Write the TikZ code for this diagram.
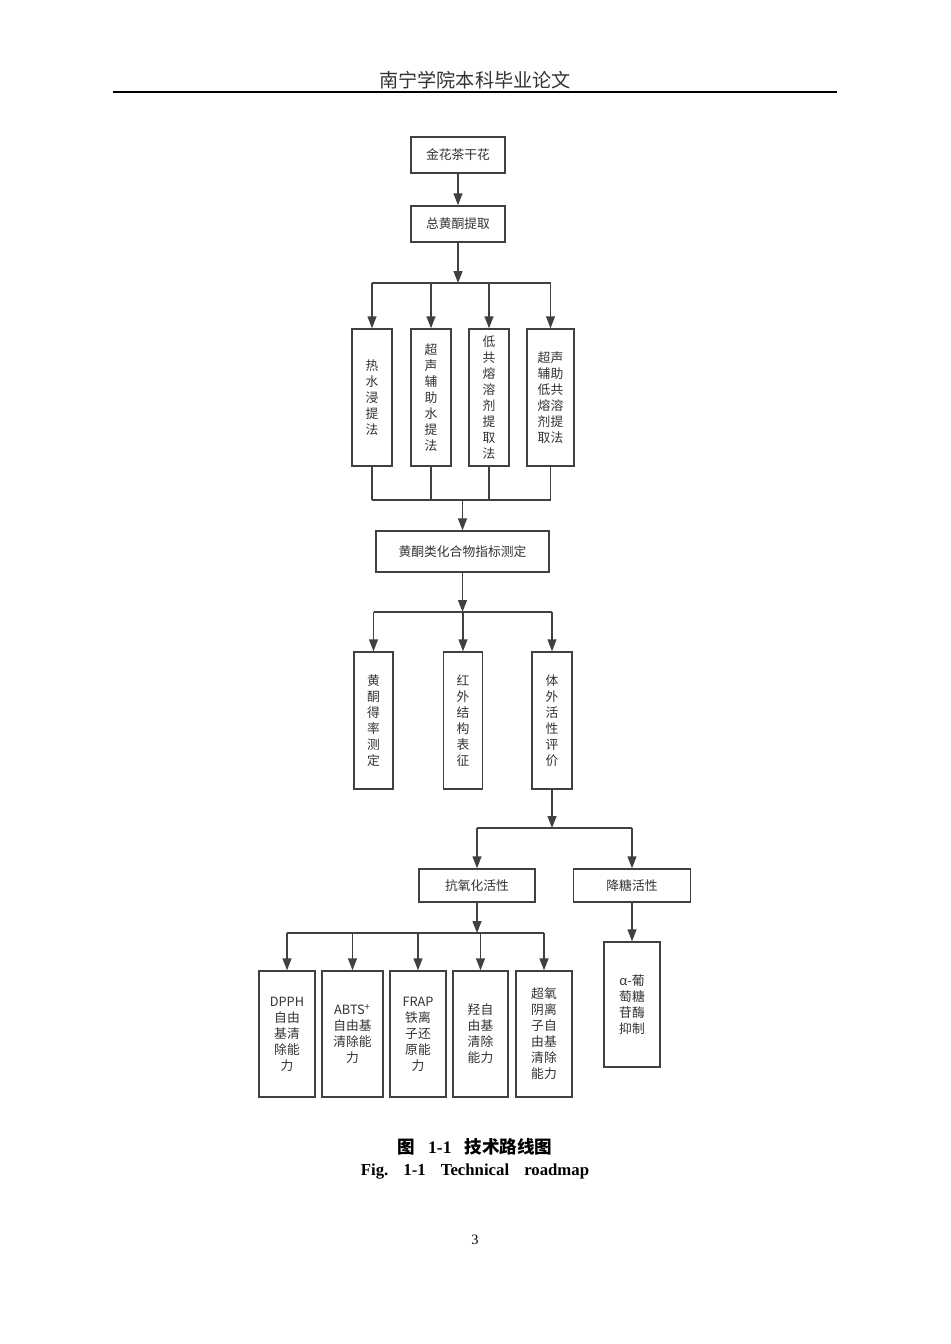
\documentclass[tikz,border=0pt]{standalone}
\usepackage{fontspec}
\setmainfont{Liberation Serif}
\newfontfamily\cjk{Noto Sans CJK SC}
\usetikzlibrary{arrows.meta, positioning}
\newcommand\px{0.6265pt}
\definecolor{linea}{HTML}{404040}
\definecolor{texto}{HTML}{333333}

\begin{document}
\begin{tikzpicture}[x=0.6265pt, y=-0.6265pt,
		>={Triangle[width=5.6pt, length=7.5pt]},
		caja/.style={draw=linea, line width=0.9pt, inner sep=0pt, align=center, text=texto,
			font=\cjk\fontsize{8}{10}\selectfont},
		flecha/.style={->, draw=linea, line width=0.9pt},
		tramo/.style={draw=linea, line width=0.9pt}]
				\fill[white] (0,0) rectangle (950,1344);
				\useasboundingbox (0,0) rectangle (950,1344);
				% Cabecera
				\node[font=\cjk\fontsize{12}{14}\selectfont, text=texto] (cabecera) at (475,80) {南宁学院本科毕业论文};
				\draw[line width=1pt] (113,92) -- (837,92);
				% Nodos
				\node[caja, minimum width=94*\px, minimum height=36*\px] (flor) at (458,155) {金花茶干花};
				\node[caja, minimum width=94*\px, minimum height=36*\px] (total) at (458,224) {总黄酮提取};
				\node[caja, minimum width=40*\px, minimum height=137*\px] (metodo1) at (372,397.5) {热\\水\\浸\\提\\法};
				\node[caja, minimum width=40*\px, minimum height=137*\px] (metodo2) at (431,397.5) {超\\声\\辅\\助\\水\\提\\法};
				\node[caja, minimum width=40*\px, minimum height=137*\px] (metodo3) at (489,397.5) {低\\共\\熔\\溶\\剂\\提\\取\\法};
				\node[caja, minimum width=47*\px, minimum height=137*\px] (metodo4) at (550.5,397.5) {超声\\辅助\\低共\\熔溶\\剂提\\取法};
				\node[caja, minimum width=173*\px, minimum height=41*\px] (indice) at (462.5,551.5) {黄酮类化合物指标测定};
				\node[caja, minimum width=39*\px, minimum height=137*\px] (medida1) at (373.5,720.5) {黄\\酮\\得\\率\\测\\定};
				\node[caja, minimum width=39*\px, minimum height=137*\px] (medida2) at (463,720.5) {红\\外\\结\\构\\表\\征};
				\node[caja, minimum width=40*\px, minimum height=137*\px] (medida3) at (552,720.5) {体\\外\\活\\性\\评\\价};
				\node[caja, minimum width=116*\px, minimum height=33*\px] (antiox) at (477,885.5) {抗氧化活性};
				\node[caja, minimum width=117*\px, minimum height=33*\px] (glucosa) at (632,885.5) {降糖活性};
				\node[caja, minimum width=56*\px, minimum height=126*\px] (ensayo1) at (287,1034) {DPPH\\自由\\基清\\除能\\力};
				\node[caja, minimum width=61*\px, minimum height=126*\px] (ensayo2) at (352.5,1034) {ABTS\textsuperscript{+}\\自由基\\清除能\\力};
				\node[caja, minimum width=56*\px, minimum height=126*\px] (ensayo3) at (418,1034) {FRAP\\铁离\\子还\\原能\\力};
				\node[caja, minimum width=55*\px, minimum height=126*\px] (ensayo4) at (480.5,1034) {羟自\\由基\\清除\\能力};
				\node[caja, minimum width=56*\px, minimum height=126*\px] (ensayo5) at (544,1034) {超氧\\阴离\\子自\\由基\\清除\\能力};
				\node[caja, minimum width=56*\px, minimum height=125*\px] (inhibicion) at (632,1004.5) {α-葡\\萄糖\\苷酶\\抑制};
				% Puntos de rama
				\coordinate (rama1) at (458,283);
				\coordinate (rama2) at (462.5,500);
				\coordinate (rama3) at (462.5,612);
				\coordinate (rama4) at (552,828);
				\coordinate (rama5) at (477,933);
				% Flechas
				\draw[flecha] (flor) -- (total);
				\draw[flecha] (total) -- (rama1);
				\draw[tramo] (rama1 -| metodo1) -- (rama1 -| metodo4);
				\foreach \n in {metodo1,metodo2,metodo3,metodo4}
					\draw[flecha] (rama1 -| \n) -- (\n);
				\foreach \n in {metodo1,metodo2,metodo3,metodo4}
					\draw[tramo] (\n) -- (\n |- rama2);
				\draw[tramo] (rama2 -| metodo1) -- (rama2 -| metodo4);
				\draw[flecha] (rama2) -- (indice);
				\draw[flecha] (indice) -- (rama3);
				\draw[tramo] (rama3 -| medida1) -- (rama3 -| medida3);
				\foreach \n in {medida1,medida2,medida3}
					\draw[flecha] (rama3 -| \n) -- (\n);
				\draw[flecha] (medida3) -- (rama4);
				\draw[tramo] (rama4 -| antiox) -- (rama4 -| glucosa);
				\draw[flecha] (rama4 -| antiox) -- (antiox);
				\draw[flecha] (rama4 -| glucosa) -- (glucosa);
				\draw[flecha] (antiox) -- (rama5);
				\draw[tramo] (rama5 -| ensayo1) -- (rama5 -| ensayo5);
				\foreach \n in {ensayo1,ensayo2,ensayo3,ensayo4,ensayo5}
					\draw[flecha] (rama5 -| \n) -- (\n);
				\draw[flecha] (glucosa) -- (inhibicion);
				% Pie
				\node[font=\bfseries\fontsize{11}{13}\selectfont] (titulo) at (475,1147) {{\cjk 图}\hspace{0.75em}1-1\hspace{0.75em}{\cjk 技术路线图}};
				\node[font=\bfseries\fontsize{10.5}{12}\selectfont] (title) at (475,1172) {Fig.\hspace{0.9em}1-1\hspace{0.9em}Technical\hspace{0.9em}roadmap};
				\node[font=\fontsize{9}{11}\selectfont] (pagina) at (475,1240) {3};
			\end{tikzpicture}
\end{document}
